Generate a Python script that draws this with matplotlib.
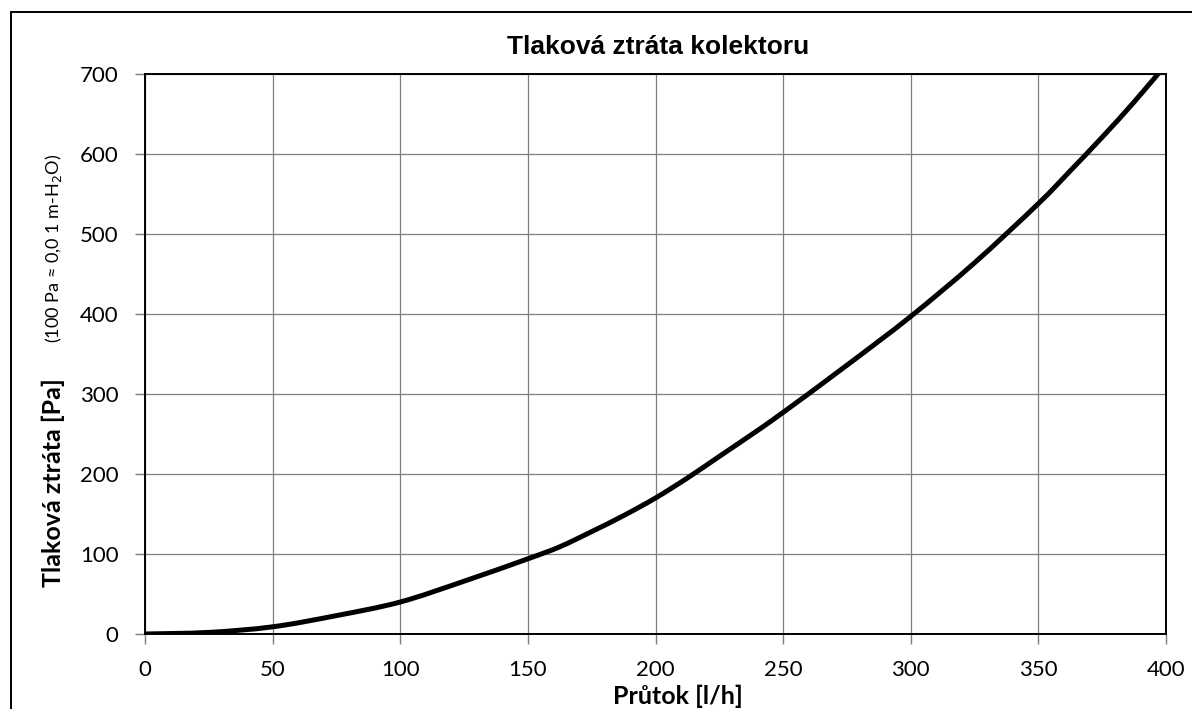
import matplotlib
matplotlib.use('Agg')
import matplotlib.pyplot as plt
from matplotlib.patches import Rectangle, PathPatch
from matplotlib.path import Path
import numpy as np

# flow [l/h] vs pressure loss [Pa]
flow = [0, 25, 50, 75, 100, 125, 150, 162.5, 175, 187.5, 200, 212.5, 225,
        237.5, 250, 275, 300, 325, 350, 362.5, 375, 387.5, 400]
loss = [0, 2, 9, 23, 40, 66, 94, 109, 128, 148, 170, 195, 222,
        249, 277, 336, 397, 464, 538, 579, 621, 665, 712]

x_ticks = [0, 50, 100, 150, 200, 250, 300, 350, 400]
y_ticks = [0, 100, 200, 300, 400, 500, 600, 700]

title = "Tlaková ztráta kolektoru"
x_label = "Průtok [l/h]"
y_label = "Tlaková ztráta [Pa]"
y_note = "(100 Pa ≈ 0,0 1 m-H$_2$O)"


def smooth_path(xs, ys):
    # Excel style smoothed line: Catmull-Rom segments as cubic Beziers
    p = np.column_stack([xs, ys]).astype(float)
    verts = [p[0]]
    codes = [Path.MOVETO]
    for i in range(len(p) - 1):
        p0 = p[i - 1] if i > 0 else p[i]
        p3 = p[i + 2] if i + 2 < len(p) else p[i + 1]
        c1 = p[i] + (p[i + 1] - p0) / 6
        c2 = p[i + 1] - (p3 - p[i]) / 6
        verts += [c1, c2, p[i + 1]]
        codes += [Path.CURVE4] * 3
    return Path(verts, codes)


fig = plt.figure(figsize=(11.92, 7.09), dpi=100)
ax = fig.add_axes([145 / 1192, 75 / 709, 1021 / 1192, 560 / 709])

ax.add_patch(PathPatch(smooth_path(flow, loss), fill=False, edgecolor='black',
                       linewidth=3.6, capstyle='butt', zorder=3))

ax.set_xlim(0, 400)
ax.set_ylim(0, 700)
ax.set_xticks(x_ticks)
ax.set_yticks(y_ticks)
ax.grid(True, color='#7f7f7f', linewidth=0.9)
ax.set_axisbelow(True)
for s in ax.spines.values():
    s.set_linewidth(1.4)
    s.set_color('black')
ax.tick_params(direction='out', length=7, width=1, color='#7f7f7f',
               labelsize=16, pad=12)
for lab in ax.get_xticklabels() + ax.get_yticklabels():
    lab.set_family('Lato')

fig.text(658 / 1192, 1 - 47 / 709, title, ha='center', va='center',
         fontsize=19, fontweight='bold', family='Liberation Sans')
fig.text(678 / 1192, 1 - 696 / 709, x_label, ha='center', va='center',
         fontsize=18, fontweight='bold', family='Lato')
fig.text(53 / 1192, 1 - 483 / 709, y_label, ha='center', va='center', rotation=90,
         fontsize=18, fontweight='bold', family='Lato')
fig.text(54 / 1192, 1 - 248 / 709, y_note, ha='center', va='center', rotation=90,
         fontsize=13, family='Lato')

# outer frame, runs off the right and bottom edge
fig.patches.append(Rectangle((11 / 1192, -0.1), 2, 1.1 - 12 / 709,
                             transform=fig.transFigure, fill=False,
                             edgecolor='black', linewidth=1.4))

fig.savefig('out.png', dpi=100)
